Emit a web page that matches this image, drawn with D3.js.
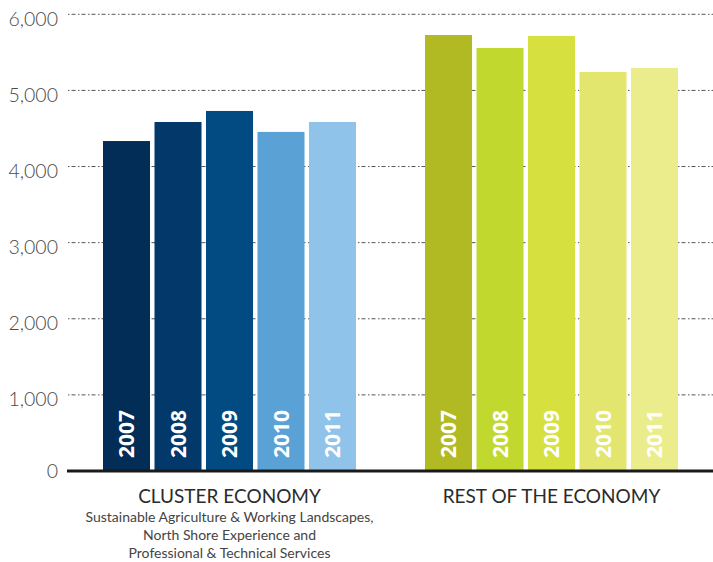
<!DOCTYPE html>
<html>
<head>
<meta charset="utf-8">
<script src="https://cdn.jsdelivr.net/npm/d3@7"></script>
<style>
  html, body { margin: 0; padding: 0; background: #fff; }
  svg { display: block; }
</style>
</head>
<body>
<svg id="chart" width="713" height="562"></svg>
<script>
// ---- data ----
const groups = ["CLUSTER ECONOMY", "REST OF THE ECONOMY"];
const years = ["2007", "2008", "2009", "2010", "2011"];
const clusterValues = [4335, 4585, 4730, 4455, 4585];
const restValues = [5728, 5558, 5716, 5243, 5296];
const clusterColors = ["#022d56", "#02386a", "#024a82", "#5aa2d5", "#8fc3ea"];
const restColors = ["#b2ba23", "#c1d92f", "#d6e03e", "#e3e66e", "#ebed8c"];
const yTicks = [0, 1000, 2000, 3000, 4000, 5000, 6000];
const subtitleLines = [
  "Sustainable Agriculture & Working Landscapes,",
  "North Shore Experience and",
  "Professional & Technical Services"
];

const series = [
  { group: groups[0], values: clusterValues, colors: clusterColors },
  { group: groups[1], values: restValues, colors: restColors }
];

const svg = d3.select("#chart");
const plotLeft = 68, plotRight = 713, plotTop = 14.3, plotBottom = 471;

const y = d3.scaleLinear().domain([0, 6000]).range([plotBottom, plotTop]);
const x0 = d3.scaleBand().domain(groups).range([plotLeft, plotRight])
  .paddingInner(0.2143).paddingOuter(0.1087);
const x1 = d3.scaleBand().domain(years).range([0, x0.bandwidth()])
  .paddingInner(0.087).paddingOuter(0);

// gridlines
const grid = svg.append("g");
grid.selectAll("line").data(yTicks.filter(d => d > 0)).join("line")
  .attr("x1", plotLeft).attr("x2", plotRight)
  .attr("y1", d => y(d)).attr("y2", d => y(d))
  .attr("stroke", "#555").attr("stroke-width", 1)
  .attr("stroke-dasharray", "1.5,2,4,2.5");

// y labels
const yAxis = d3.axisLeft(y).tickValues(yTicks).tickSize(0).tickPadding(0)
  .tickFormat(d3.format(","));
const ya = svg.append("g").attr("transform", `translate(${58},0)`).call(yAxis);
ya.select(".domain").remove();
ya.selectAll("text")
  .attr("font-family", "Lato, 'Open Sans', sans-serif")
  .attr("font-weight", 300)
  .attr("font-size", 19.5)
  .attr("fill", "#4a4a4a")
  .attr("dy", d => d === 0 ? "0.32em" : "0.55em");

// bars
const gs = svg.selectAll("g.grp").data(series).join("g")
  .attr("class", "grp")
  .attr("transform", d => `translate(${x0(d.group)},0)`);

gs.selectAll("rect").data(d => d.values.map((v, i) => ({ v, yr: years[i], c: d.colors[i] })))
  .join("rect")
  .attr("x", d => x1(d.yr))
  .attr("width", x1.bandwidth())
  .attr("y", d => y(d.v))
  .attr("height", d => y(0) - y(d.v))
  .attr("fill", d => d.c);

gs.selectAll("text.yr").data(d => d.values.map((v, i) => ({ v, yr: years[i] })))
  .join("text")
  .attr("class", "yr")
  .attr("transform", d => `translate(${x1(d.yr) + x1.bandwidth() / 2},${458}) rotate(-90)`)
  .attr("dy", "0.36em")
  .attr("text-anchor", "start")
  .attr("font-family", "'Open Sans', sans-serif")
  .attr("font-weight", 700)
  .attr("font-size", 21)
  .attr("fill", "#fff")
  .text(d => d.yr);

// axis baseline
svg.append("line")
  .attr("x1", plotLeft - 1).attr("x2", plotRight)
  .attr("y1", y(0)).attr("y2", y(0))
  .attr("stroke", "#1a1a1a").attr("stroke-width", 3);

// category labels
svg.selectAll("text.cat").data(groups).join("text")
  .attr("class", "cat")
  .attr("x", d => x0(d) + x0.bandwidth() / 2)
  .attr("y", 503)
  .attr("text-anchor", "middle")
  .attr("font-family", "Lato, 'Open Sans', sans-serif")
  .attr("font-size", 19)
  .attr("fill", "#2b2b2b")
  .text(d => d);

svg.selectAll("text.sub").data(subtitleLines).join("text")
  .attr("class", "sub")
  .attr("x", x0(groups[0]) + x0.bandwidth() / 2)
  .attr("y", (d, i) => 521.5 + i * 18.3)
  .attr("text-anchor", "middle")
  .attr("font-family", "Lato, 'Open Sans', sans-serif")
  .attr("font-size", 14)
  .attr("fill", "#444")
  .text(d => d);
</script>
</body>
</html>
